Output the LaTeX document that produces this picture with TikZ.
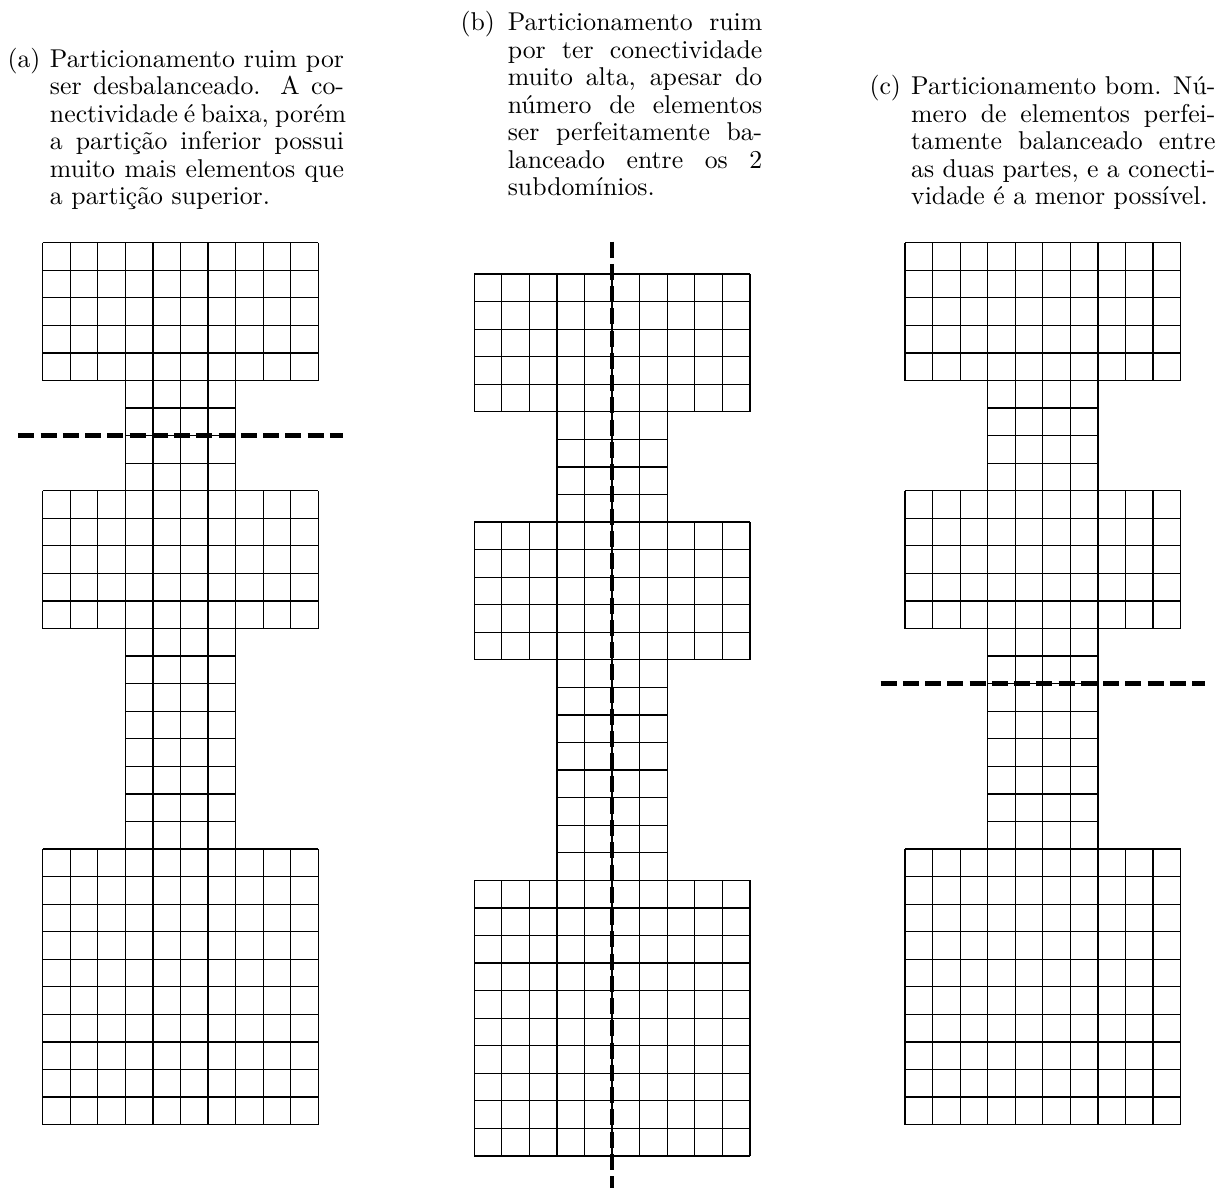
\documentclass[tikz,border=0pt]{standalone}
\usepackage{tikz}
\usetikzlibrary{positioning}
\newcommand{\capfont}{\fontsize{10.3}{11}\selectfont}
%% one justified caption line: width, words
\newcommand{\jline}[2]{{\spaceskip=0pt\xspaceskip=0pt\makebox[#1][s]{#2}}}
\tikzset{
  cell/.style   ={draw=black,line width=0.5pt},
  cut/.style    ={black,line width=1.8pt,dash pattern=on 6.4pt off 2.5pt},
  sublbl/.style ={font=\capfont,inner sep=0pt,anchor=base west},
  subcap/.style ={font=\capfont,inner sep=0pt,anchor=base west,align=left},
}

\begin{document}
\begin{tikzpicture}[x=0.4pt,y=-0.4pt]
\useasboundingbox (0,0) rectangle (1228,1188);
\def\cs{27.56}
%% one block of cells: x, y, columns, rows, first and last row line
\newcommand{\blockgrid}[6]{%
  \foreach \i in {0,...,#3} \draw[cell] (#1+\i*\cs,#2) -- ++(0,#4*\cs);
  \foreach \j in {#5,...,#6} \draw[cell] (#1,#2+\j*\cs) -- ++(#3*\cs,0);}

%% the same mesh three times: 10x5, 4x4, 10x5, 4x8, 10x10
\foreach \mx/\my in {42.7/242.7, 474.3/274.0, 905.0/242.7}
  \foreach \bx/\by/\bc/\br/\ja/\jb in {0/0/10/5/0/5, 3/5/4/4/1/3, 0/9/10/5/0/5,
                                      3/14/4/8/1/7, 0/22/10/10/0/10}
    {\blockgrid{\mx+\bx*\cs}{\my+\by*\cs}{\bc}{\br}{\ja}{\jb}}

%% cuts
\coordinate (cutA-w) at (18.3,435.6);
\coordinate (cutA-e) at (343.3,435.6);
\coordinate (cutB-n) at (612.1,241.7);
\coordinate (cutB-s) at (612.1,1188);
\coordinate (cutC-w) at (880.7,683.7);
\coordinate (cutC-e) at (1205.3,683.7);
\draw[cut] (cutA-w) -- (cutA-e);
\draw[cut] (cutB-n) -- (cutB-s);
\draw[cut] (cutC-w) -- (cutC-e);

%% captions
\node[sublbl] (laba) at (7,67) {(a)};
\node[subcap,text width=117.6pt] (capa) at (49.5,67)
  {\jline{117.6pt}{Particionamento ruim por}\\
   \jline{117.6pt}{ser desbalanceado. A co-}\\
   \jline{117.6pt}{nectividade é baixa, porém}\\
   \jline{117.6pt}{a partição inferior possui}\\
   \jline{117.6pt}{muito mais elementos que}\\
   a partição superior.};

\node[sublbl] (labb) at (460,30.5) {(b)};
\node[subcap,text width=101.8pt] (capb) at (507.3,30.5)
  {\jline{101.8pt}{Particionamento ruim}\\
   \jline{101.8pt}{por ter conectividade}\\
   \jline{101.8pt}{muito alta, apesar do}\\
   \jline{101.8pt}{número de elementos}\\
   \jline{101.8pt}{ser perfeitamente ba-}\\
   \jline{101.8pt}{lanceado entre os 2}\\
   subdomínios.};

\node[sublbl] (labc) at (869,94.5) {(c)};
\node[subcap,text width=121.7pt] (capc) at (910.7,94.5)
  {\jline{121.7pt}{Particionamento bom. Nú-}\\
   \jline{121.7pt}{mero de elementos perfei-}\\
   \jline{121.7pt}{tamente balanceado entre}\\
   \jline{121.7pt}{as duas partes, e a conecti-}\\
   vidade é a menor possível.};
\end{tikzpicture}
\end{document}
